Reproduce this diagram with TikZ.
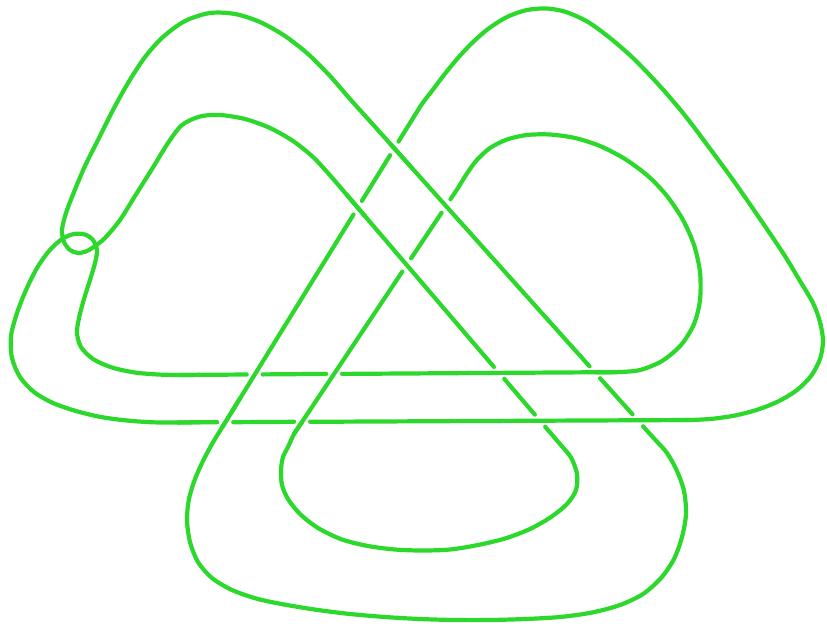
\documentclass[tikz,border=0pt]{standalone}
\definecolor{knotgreen}{RGB}{44,216,44}
\tikzset{strand/.style={draw=knotgreen, line width=4.2pt, line cap=round, line join=round}}
\begin{document}
\begin{tikzpicture}[x=1pt,y=-1pt]
\useasboundingbox (0,0) rectangle (827,625);
% M: outer D1 up, top-left arc, small loop, inner arc, D2 down
\draw[strand] (589.5,366.3) -- (390,143.5);
\draw[strand] plot[smooth] coordinates {(410,165.8) (390,143.5) (370,121.2) (350,99) (330,76) (308,54) (285,36) (260,22) (235,14) (210,13) (185,21) (163,37) (145,57) (128,83) (113,110) (99,138) (85,166) (74,192) (66,213) (62,230) (64,242) (70,250) (78,253) (87,251) (95,246) (105,238) (120,220) (135,196) (152,169) (168,143) (182,125) (200,116.5) (220,115) (245,119) (270,128) (293,141) (313,157) (330,175.3) (347,195.1) (365,216.2)};
\draw[strand] (347,195.1) -- (493.9,366.9);
% B
\draw[strand] (504.3,378.9) -- (534.8,414.6);
% C: D2 lower, inner bottom arc, U2 up
\draw[strand] plot[smooth] coordinates {(545.2,426.8) (560,444.1) (571,457.5) (577,474) (576,490) (567,504) (551,517) (530,529) (505,538.5) (478,545) (450,549.5) (422,550.5) (395,549.5) (368,546) (342,539.5) (318,528) (300,514) (288,499) (282,485) (281,470) (283,457) (288,447) (294,434) (302,422)};
\draw[strand] (294,434) -- (402.3,271.6);
% D
\draw[strand] (411.1,258.3) -- (441.6,212.7);
% E: U2 top, right inner arc, H1 leftwards
\draw[strand] plot[smooth] coordinates {(450.4,199.3) (458,187.9) (466,175) (476,161) (490,148) (507,139.5) (527,135) (550,134.5) (575,138) (600,146) (625,159) (648,176) (667,196) (683,220) (694,245) (700,272) (700,300) (694,324) (681,345) (662,361) (640,370) (618,372.1) (595,372.2)};
\draw[strand] (618,372.1) -- (342.1,373.9);
% F
\draw[strand] (326.1,373.9) -- (262.7,374.4);
% G: H1 left end, left loops, H2 start
\draw[strand] (246.7,374.5) -- (180,375);
\draw[strand] plot[smooth] coordinates {(200,374.8) (180,375) (158,374.5) (135,372.5) (112,367.5) (93,359) (81,347) (77,333) (79,318) (84,299) (90,280) (95,263) (97,250) (93,240) (85,234.5) (74,234) (62,239) (49,251) (37,268) (26,290) (17,313) (11,336) (12,358) (20,377) (34,392) (53,403) (76,411) (101,417) (127,420.5) (153,422.3) (178,422.5) (200,422.3)};
\draw[strand] (178,422.4) -- (217.3,422.2);
% H
\draw[strand] (233.3,422.2) -- (294.1,421.8);
% I: H2 right, outer right arc, U1 down
\draw[strand] (310.1,421.8) -- (690,420.0);
\draw[strand] plot[smooth] coordinates {(670,420.1) (690,420) (712,418.8) (735,415.5) (758,409.5) (779,401) (797,390) (811,376) (820,359) (823,341) (820,322) (813,303) (800,281) (783,253) (758,216) (733,180) (708,146) (683,113) (658,84) (633,58) (610,38) (588,22) (566,12) (547,8.5) (527,10) (507,17) (488,29) (471,44) (457,59) (444,75) (433,89.5) (422,104) (410,123) (398.5,141.6)};
% J
\draw[strand] (390.1,155.2) -- (361.9,200.9);
% K: U1 down, outer bottom arc, D1 up
\draw[strand] (353.5,214.5) -- (222,427.6);
\draw[strand] plot[smooth] coordinates {(240,398.4) (222,427.6) (212,444) (203,461) (195,479) (189,499) (187,520) (190,542) (198,562) (212,578) (232,590) (258,599) (287,605) (318,610) (350,614) (385,617) (420,619) (455,620) (490,620) (525,619) (560,617) (592,612.5) (620,605) (643,594) (661,578) (674,559) (682,537) (686,514) (684,491) (677,471) (667,453) (656,440.6) (645,428.5) (643.1,426.3)};
% L
\draw[strand] (632.5,414.3) -- (600.1,378.3);
\end{tikzpicture}
\end{document}
